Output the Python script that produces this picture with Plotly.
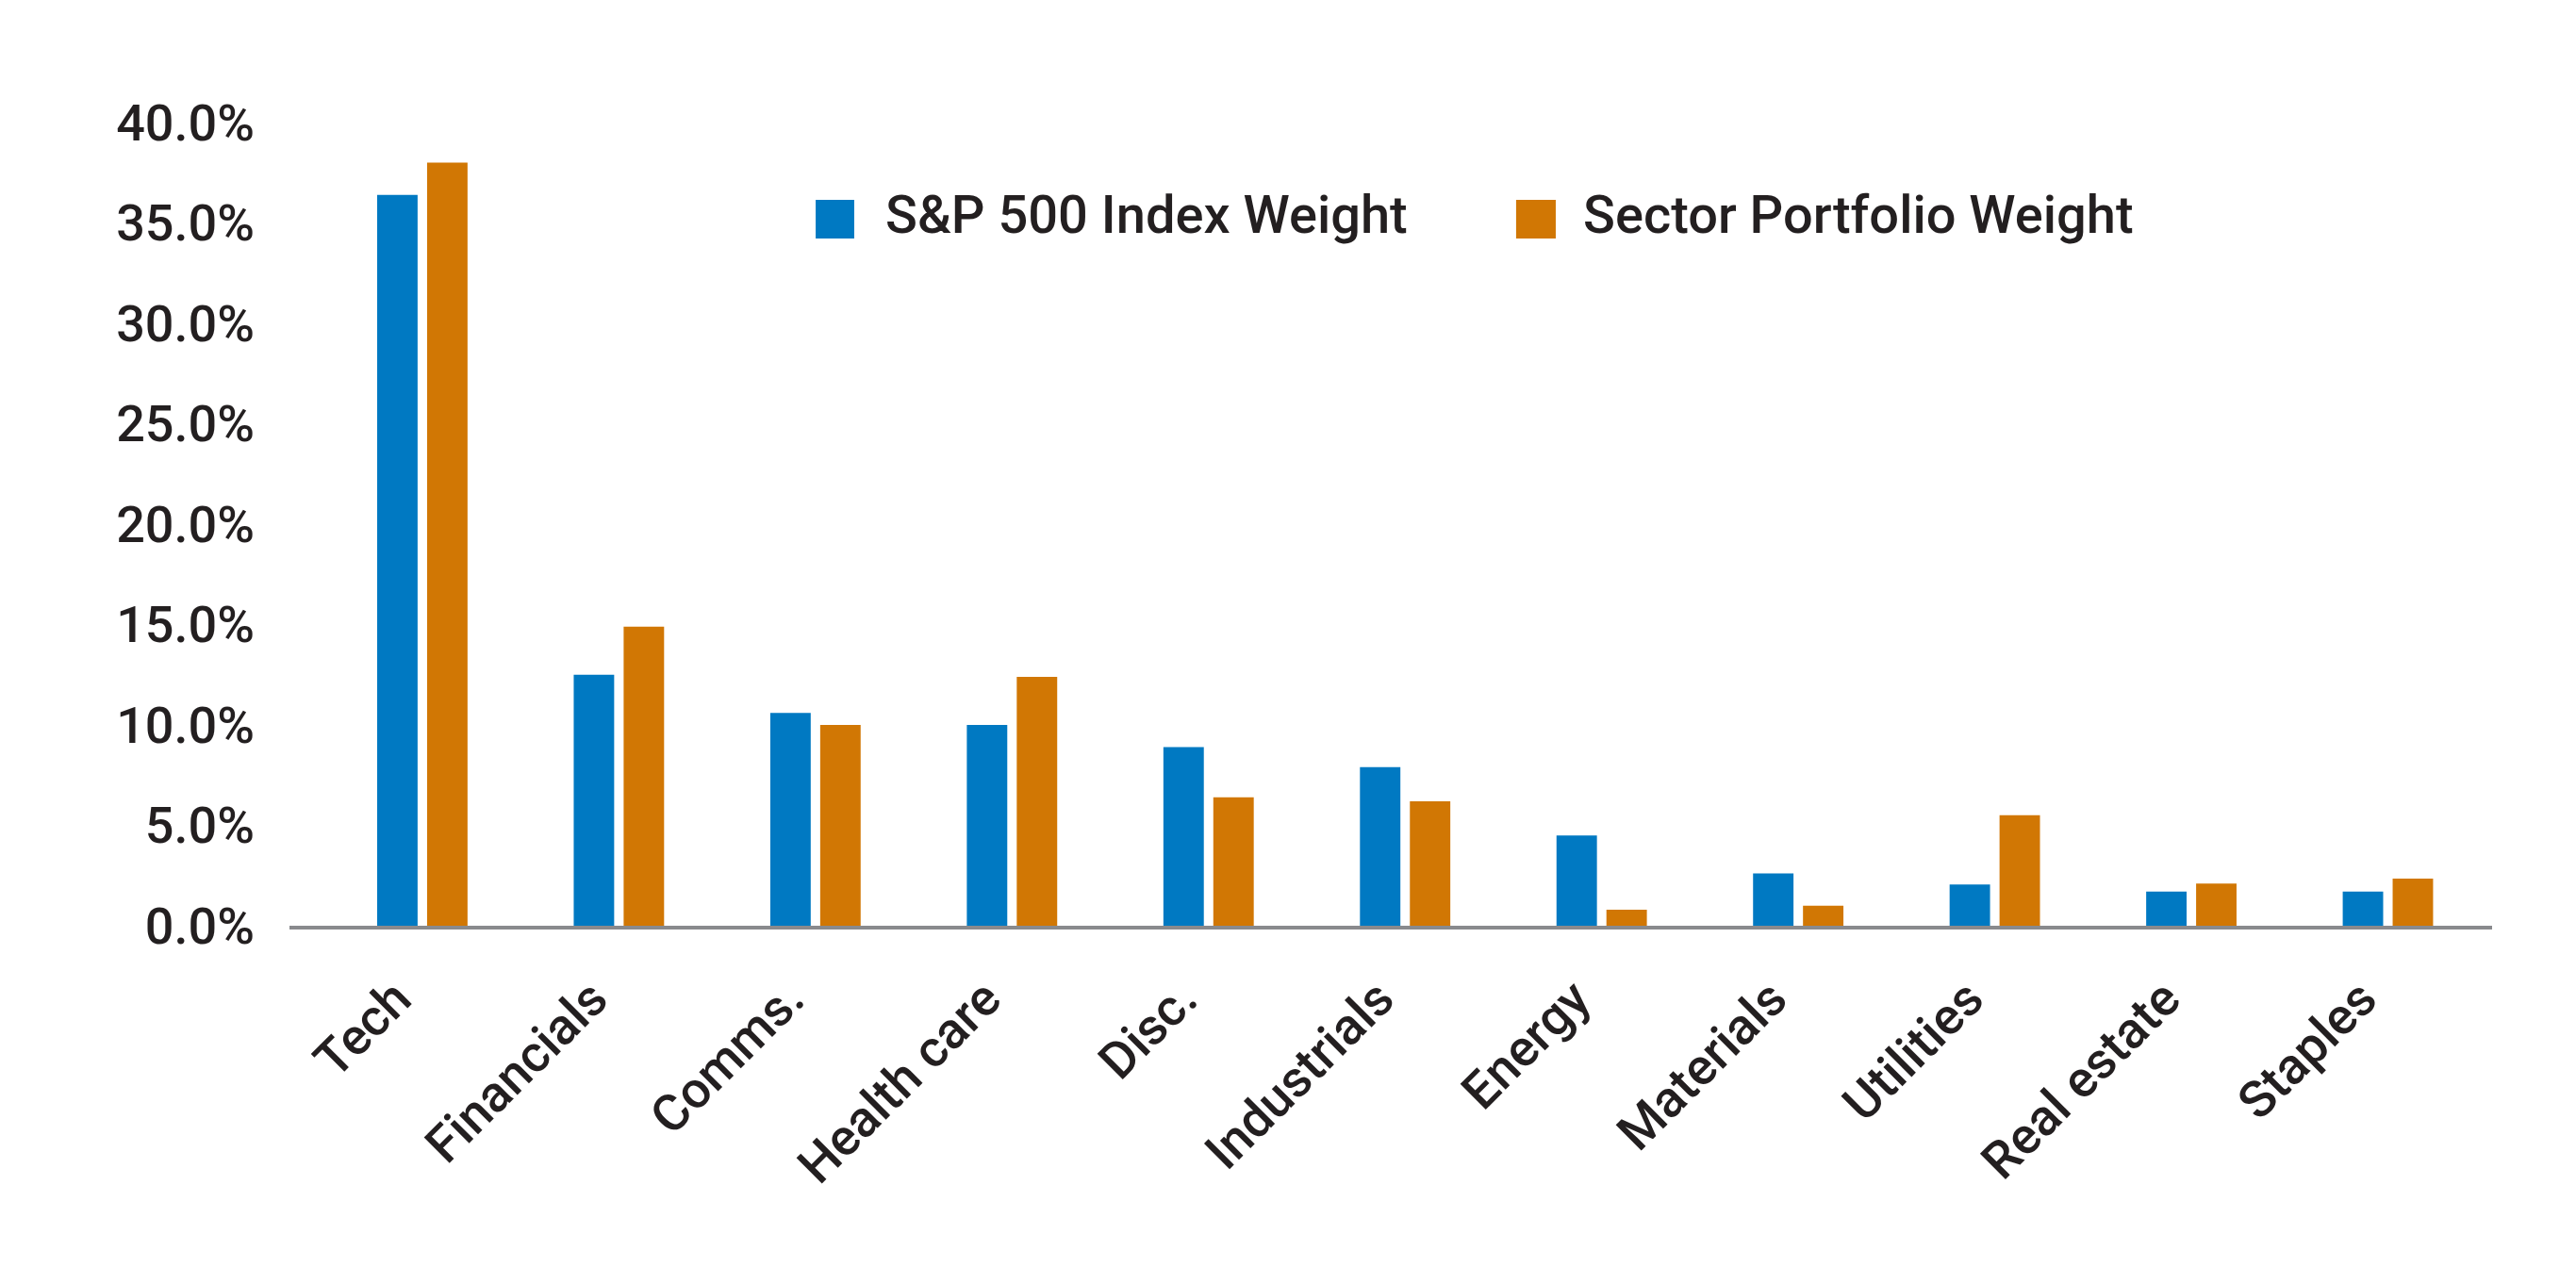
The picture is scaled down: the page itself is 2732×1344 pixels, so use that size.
import plotly.graph_objects as go

sectors = ["Tech", "Financials", "Comms.", "Health care", "Disc.", "Industrials",
           "Energy", "Materials", "Utilities", "Real estate", "Staples"]
sp500_weight = [36.4, 12.5, 10.6, 10.0, 8.9, 7.9, 4.5, 2.6, 2.05, 1.7, 1.7]
sector_weight = [38.0, 14.9, 10.0, 12.4, 6.4, 6.2, 0.8, 1.0, 5.5, 2.1, 2.35]
series_names = ["S&P 500 Index Weight", "Sector Portfolio Weight"]
y_ticks = [0, 5, 10, 15, 20, 25, 30, 35, 40]
y_tick_labels = [f"{v:.1f}%" for v in y_ticks]

BLUE = "#0079C2"
ORANGE = "#D17704"
TEXT = "#231F20"
FONT = "Roboto, Liberation Sans, Arial, sans-serif"

fig = go.Figure()
fig.add_trace(go.Bar(x=sectors, y=sp500_weight, name=series_names[0],
                     marker=dict(color=BLUE, line=dict(width=0))))
fig.add_trace(go.Bar(x=sectors, y=sector_weight, name=series_names[1],
                     marker=dict(color=ORANGE, line=dict(width=0))))

# legend drawn by hand so the swatches can be as big as in the original
legend_items = [(series_names[0], BLUE, 0.2389, 0.2564, 0.2697),
                (series_names[1], ORANGE, 0.5569, 0.5749, 0.5865)]
for name, color, x0, x1, xt in legend_items:
    fig.add_shape(type="rect", xref="paper", yref="paper",
                  x0=x0, x1=x1, y0=0.8556, y1=0.9038,
                  fillcolor=color, line=dict(width=0))
    fig.add_annotation(text=name, xref="paper", yref="paper", x=xt, y=0.885,
                       xanchor="left", yanchor="middle", showarrow=False,
                       font=dict(family=FONT, size=56, color=TEXT, weight=500))

fig.update_layout(
    width=2732, height=1344,
    margin=dict(l=299, r=97, t=122, b=370),
    paper_bgcolor="white", plot_bgcolor="white",
    barmode="group", bargap=0.492, bargroupgap=0.19,
    showlegend=False,
    font=dict(family=FONT, color=TEXT, weight=500),
)
fig.update_xaxes(
    type="category", range=[-0.676, 10.53],
    tickangle=-45, tickfont=dict(size=54, color=TEXT, weight=500),
    showline=True, linecolor="#898A8D", linewidth=4,
    ticks="", showgrid=False, ticklabelstandoff=20, ticklabelshift=-28,
)
fig.update_yaxes(
    range=[0, 40], tickvals=y_ticks, ticktext=y_tick_labels,
    tickfont=dict(size=54, color=TEXT, weight=500),
    showline=False, showgrid=False, zeroline=False, ticks="",
    ticklabelstandoff=36,
)

fig.write_html("out.html")
